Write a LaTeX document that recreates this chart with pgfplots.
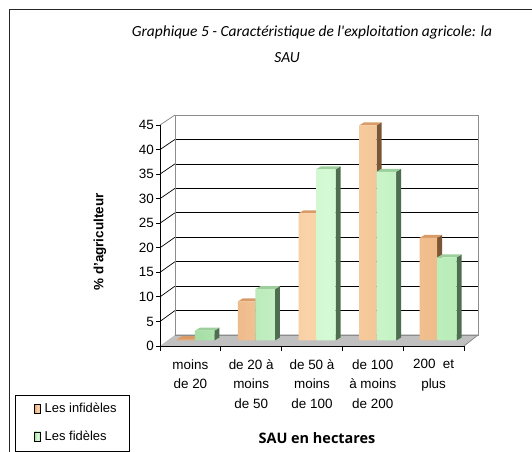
\documentclass[border=0pt]{standalone}
\usepackage{pgfplots}
\pgfplotsset{compat=1.18}
\usepackage{pgfplotstable}
\usepackage{fontspec}
\setmainfont{Liberation Sans}
\newfontfamily\titlefont{Carlito}
\newfontfamily\labfont{Open Sans}

\definecolor{orL}{HTML}{E4A672}
\definecolor{orM}{HTML}{FAD3A8}
\definecolor{orR}{HTML}{EFBC8A}
\definecolor{orSide}{HTML}{7A5636}
\definecolor{orCap}{HTML}{D99C68}
\definecolor{grL}{HTML}{A6DEA6}
\definecolor{grM}{HTML}{D4FAD4}
\definecolor{grR}{HTML}{B8ECB8}
\definecolor{grSide}{HTML}{4F6E4F}
\definecolor{grCap}{HTML}{9CCF9C}
\definecolor{floorgray}{HTML}{C0C0C0}
\definecolor{edgegray}{HTML}{8C8C8C}

\pgfplotstableread{
x inf fid
0 0.3 2
1 8 10.5
2 26 35
3 44 34.5
4 21 17
}\sau

\begin{document}
\begin{tikzpicture}[x=1bp,y=1bp]
\useasboundingbox (0,0) rectangle (532,452);
\fill[white] (0,0) rectangle (532,452);
% outer frame
\draw[line width=1.3bp, black!85] (9.5,0) -- (9.5,442.5) -- (532,442.5);
% title
\node[anchor=base, font=\titlefont\itshape\fontsize{15.5}{18}\selectfont, inner sep=0] at (312,415) {Graphique 5 - Caractéristique de l'exploitation agricole: la};
\node[anchor=base, font=\titlefont\itshape\fontsize{15.5}{18}\selectfont, inner sep=0] at (287,389) {SAU};

% floor
\fill[floorgray] (160,106) -- (464,106) -- (478,117) -- (175,117) -- cycle;
\draw[edgegray, line width=0.8bp] (464,106) -- (478,117) -- (175,117);
% left wall
\draw[edgegray, line width=0.8bp] (160,327) -- (175,337);
\foreach \v in {5,10,...,40} \draw[black, line width=0.7bp] (160,{106+\v*221/45}) -- (175,{117+\v*220/45});

% back wall with grid
\begin{axis}[at={(175bp,117bp)}, anchor=south west, scale only axis,
  width=303bp, height=220bp, xmin=-0.5, xmax=4.5, ymin=0, ymax=45,
  ytick={0,5,...,45}, yticklabels={}, xtick=\empty,
  ymajorgrids, grid style={black, line width=0.7bp},
  axis line style={edgegray, line width=0.8bp}, tick style={draw=none},
  legend style={at={(axis description cs:-0.465,-0.300)}, anchor=north west,
    draw=none, fill=none, inner sep=0pt, row sep=12.5bp, column sep=2bp,
    font=\fontsize{13}{15}\selectfont, cells={anchor=west}},
  legend cell align=left]
\addlegendimage{legend image code/.code={\fill[left color=orL, right color=orR, middle color=orM] (0bp,-4.5bp) rectangle (6bp,4.5bp);}}
\addlegendentry{Les infidèles}
\addlegendimage{legend image code/.code={\fill[left color=grL, right color=grR, middle color=grM] (0bp,-4.5bp) rectangle (6bp,4.5bp);}}
\addlegendentry{Les fidèles}
\end{axis}

% bars at mid depth
\begin{axis}[at={(167.5bp,111.5bp)}, anchor=south west, scale only axis,
  width=303bp, height=220bp, xmin=-0.5, xmax=4.5, ymin=0, ymax=45,
  hide axis, clip=false]
\pgfplotsinvokeforeach{0,...,4}{
  \pgfplotstablegetelem{#1}{inf}\of\sau
  \pgfmathsetmacro\hA{\pgfplotsretval}
  \pgfmathsetmacro\hB{\hA+0.6136}
  \pgfmathsetmacro\xa{#1-0.3383}
  \pgfmathsetmacro\xb{#1-0.0495}
  \pgfmathsetmacro\xc{#1+0.0330}
  \pgfmathsetmacro\xd{#1-0.2558}
  \addplot[fill=orSide, draw=none] coordinates {(\xb,0) (\xb,\hA) (\xc,\hB) (\xc,0.6136)} -- cycle;
  \addplot[fill=orCap, draw=none] coordinates {(\xa,\hA) (\xb,\hA) (\xc,\hB) (\xd,\hB)} -- cycle;
}
\addplot[ybar, bar width=17.5bp, bar shift=-11.75bp, draw=none,
  left color=orL, right color=orR, middle color=orM] table[x=x, y=inf] {\sau};
\pgfplotsinvokeforeach{0,...,4}{
  \pgfplotstablegetelem{#1}{fid}\of\sau
  \pgfmathsetmacro\hA{\pgfplotsretval}
  \pgfmathsetmacro\hB{\hA+0.6136}
  \pgfmathsetmacro\xa{#1-0.0495}
  \pgfmathsetmacro\xb{#1+0.2723}
  \pgfmathsetmacro\xc{#1+0.3548}
  \pgfmathsetmacro\xd{#1+0.0330}
  \addplot[fill=grSide, draw=none] coordinates {(\xb,0) (\xb,\hA) (\xc,\hB) (\xc,0.6136)} -- cycle;
  \addplot[fill=grCap, draw=none] coordinates {(\xa,\hA) (\xb,\hA) (\xc,\hB) (\xd,\hB)} -- cycle;
}
\addplot[ybar, bar width=19.5bp, bar shift=6.75bp, draw=none,
  left color=grL, right color=grR, middle color=grM] table[x=x, y=fid] {\sau};
\end{axis}

% front axes with ticks and labels
\begin{axis}[at={(160bp,106bp)}, anchor=south west, scale only axis,
  width=304bp, height=221bp, xmin=-0.5, xmax=4.5, ymin=0, ymax=45,
  axis x line=bottom, axis y line=left,
  axis line style={-, black, line width=0.8bp},
  ytick={0,5,...,45}, xtick={0,...,4},
  xticklabels={{moins\\de 20},{de 20 à\\moins\\de 50},{de 50 à\\moins\\de 100},{de 100\\à moins\\de 200},{200\ \ et\\plus}},
  tick align=outside, major tick length=4bp,
  major x tick style={draw=none},
  minor xtick={-0.5,0.5,1.5,2.5,3.5,4.5}, minor tick length=5bp,
  minor x tick style={black, line width=0.8bp},
  ytick style={black, line width=0.8bp},
  /pgf/number format/assume math mode=true,
  yticklabel style={font=\fontsize{13.5}{16}\selectfont, inner sep=2bp},
  xticklabel style={font=\fontsize{13.5}{19.5}\selectfont, align=center, anchor=north, yshift=-6bp},
]
\end{axis}

% axis titles
\node[rotate=90, font=\bfseries\fontsize{13.5}{16}\selectfont] at (100,210) {\% d'agriculteur};
\node[anchor=base, font=\labfont\bfseries\fontsize{14.5}{17}\selectfont] at (317,8) {SAU en hectares};
% legend box
\draw[black, line width=0.8bp] (15,1) rectangle (129,57);
\end{tikzpicture}
\end{document}
